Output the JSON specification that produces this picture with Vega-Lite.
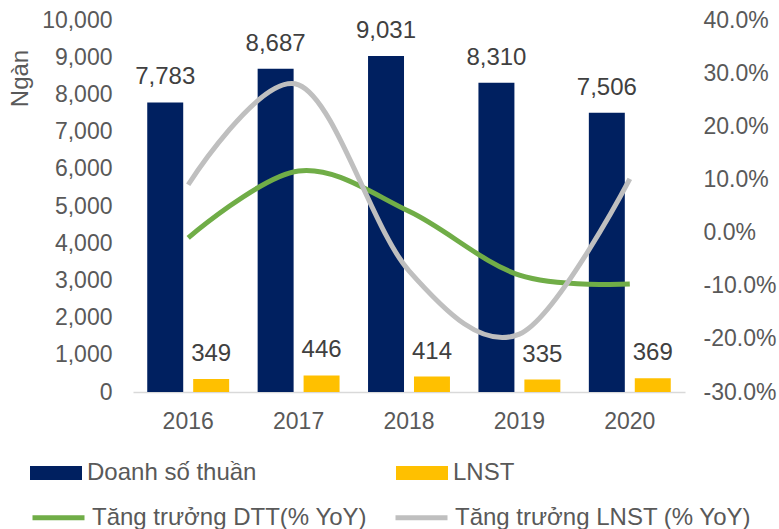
{
  "$schema": "https://vega.github.io/schema/vega-lite/v6.json",
  "width": 552,
  "height": 372,
  "autosize": {"type": "none"},
  "padding": {"left": 133, "top": 20, "right": 94, "bottom": 137},
  "background": "white",
  "config": {
    "font": "Liberation Sans",
    "view": {"stroke": null},
    "axis": {"grid": false, "ticks": false, "labelColor": "#595959", "labelFontSize": 23, "titleColor": "#595959", "titleFontWeight": "normal"}
  },
  "datasets": {
    "bars": [
      {"year": "2016", "series": "Doanh số thuần", "value": 7783},
      {"year": "2016", "series": "LNST", "value": 349},
      {"year": "2017", "series": "Doanh số thuần", "value": 8687},
      {"year": "2017", "series": "LNST", "value": 446},
      {"year": "2018", "series": "Doanh số thuần", "value": 9031},
      {"year": "2018", "series": "LNST", "value": 414},
      {"year": "2019", "series": "Doanh số thuần", "value": 8310},
      {"year": "2019", "series": "LNST", "value": 335},
      {"year": "2020", "series": "Doanh số thuần", "value": 7506},
      {"year": "2020", "series": "LNST", "value": 369}
    ],
    "lines": [
      {"year": "2016", "series": "Tăng trưởng DTT(% YoY)", "pct": -0.010},
      {"year": "2017", "series": "Tăng trưởng DTT(% YoY)", "pct": 0.116},
      {"year": "2018", "series": "Tăng trưởng DTT(% YoY)", "pct": 0.040},
      {"year": "2019", "series": "Tăng trưởng DTT(% YoY)", "pct": -0.080},
      {"year": "2020", "series": "Tăng trưởng DTT(% YoY)", "pct": -0.097},
      {"year": "2016", "series": "Tăng trưởng LNST (% YoY)", "pct": 0.090},
      {"year": "2017", "series": "Tăng trưởng LNST (% YoY)", "pct": 0.278},
      {"year": "2018", "series": "Tăng trưởng LNST (% YoY)", "pct": -0.072},
      {"year": "2019", "series": "Tăng trưởng LNST (% YoY)", "pct": -0.191},
      {"year": "2020", "series": "Tăng trưởng LNST (% YoY)", "pct": 0.101}
    ]
  },
  "layer": [
    {
      "data": {"name": "bars"},
      "encoding": {
        "x": {
          "field": "year", "type": "nominal",
          "scale": {"paddingInner": 0.258, "paddingOuter": 0.129},
          "axis": {"title": null, "labelAngle": 0, "labelPadding": 18, "domain": true, "domainColor": "#D9D9D9", "domainWidth": 1.5}
        },
        "xOffset": {
          "field": "series", "type": "nominal",
          "scale": {"domain": ["Doanh số thuần", "LNST"], "paddingInner": 0.217, "paddingOuter": 0}
        },
        "y": {
          "field": "value", "type": "quantitative",
          "scale": {"domain": [0, 10000], "nice": false},
          "axis": {
            "title": "Ngàn", "titleAngle": -90, "titleX": -113, "titleY": 58, "titleAlign": "center", "titleBaseline": "middle", "titleFontSize": 24,
            "labelPadding": 21, "domain": false, "format": ",.0f",
            "values": [0, 1000, 2000, 3000, 4000, 5000, 6000, 7000, 8000, 9000, 10000]
          }
        }
      },
      "layer": [
        {
          "mark": {"type": "bar"},
          "encoding": {
            "fill": {
              "field": "series", "type": "nominal",
              "scale": {"domain": ["Doanh số thuần", "LNST"], "range": ["#002060", "#FFC000"]},
              "legend": {
                "title": null, "orient": "none", "legendX": -103, "legendY": 427,
                "direction": "horizontal", "columns": 2, "columnPadding": 139,
                "symbolType": "M-1,-0.27L1,-0.27L1,0.27L-1,0.27Z", "symbolSize": 2704, "symbolStrokeWidth": 0,
                "labelFontSize": 24, "labelColor": "#595959", "labelOffset": 5, "labelLimit": 400
              }
            }
          }
        },
        {
          "mark": {"type": "text", "dy": -25, "fontSize": 24, "color": "#404040", "baseline": "middle"},
          "encoding": {"text": {"field": "value", "type": "quantitative", "format": ",.0f"}}
        }
      ]
    },
    {
      "data": {"name": "lines"},
      "mark": {"type": "line", "interpolate": "cardinal", "strokeWidth": 5},
      "encoding": {
        "x": {
          "field": "year", "type": "nominal",
          "axis": {"title": null, "labelAngle": 0, "labelPadding": 18, "domain": true, "domainColor": "#D9D9D9", "domainWidth": 1.5}
        },
        "y": {
          "field": "pct", "type": "quantitative",
          "scale": {"domain": [-0.3, 0.4], "nice": false},
          "axis": {"orient": "right", "title": null, "labelExpr": "replace(format(datum.value, '.1%'), '\u2212', '-')", "labelPadding": 18, "domain": false,
                   "values": [-0.3, -0.2, -0.1, 0, 0.1, 0.2, 0.3, 0.4]}
        },
        "stroke": {
          "field": "series", "type": "nominal",
          "scale": {"domain": ["Tăng trưởng DTT(% YoY)", "Tăng trưởng LNST (% YoY)"], "range": ["#70AD47", "#BFBFBF"]},
          "legend": {
            "title": null, "orient": "none", "legendX": -103, "legendY": 469,
            "direction": "horizontal", "columns": 2, "columnPadding": 17,
            "symbolType": "stroke", "symbolSize": 2704, "symbolStrokeWidth": 5,
            "labelFontSize": 24, "labelColor": "#595959", "labelOffset": 5, "labelLimit": 400
          }
        }
      }
    }
  ],
  "resolve": {"scale": {"y": "independent"}}
}
